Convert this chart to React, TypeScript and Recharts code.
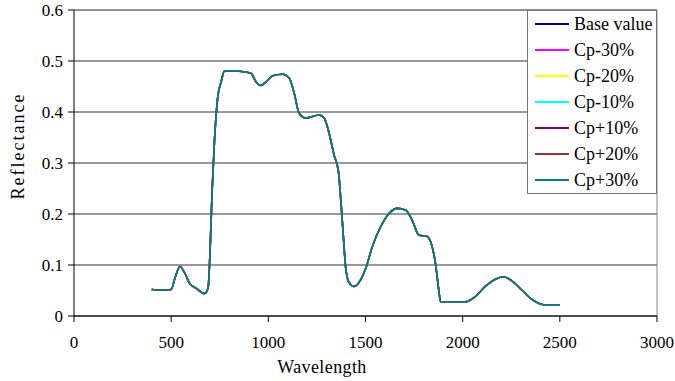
import React from 'react';
import { LineChart, Line, XAxis, YAxis, CartesianGrid, Legend, ReferenceLine } from 'recharts';

// wavelength samples (nm)
const wavelengths = [
  400, 450, 500, 520, 545, 570, 595, 630, 672, 690, 701, 711, 723, 740, 757, 775,
  850, 910, 937, 962, 988, 1022, 1074, 1108, 1133, 1159, 1193, 1262, 1287, 1313,
  1338, 1361, 1373, 1385, 1398, 1415, 1441, 1475, 1501, 1535, 1578, 1621, 1663,
  1706, 1740, 1774, 1817, 1843, 1860, 1877, 1886, 2014, 2065, 2116, 2168, 2210,
  2253, 2304, 2355, 2390, 2440, 2500,
];

// reflectance at those wavelengths (all seven curves sit on top of each other)
const reflectance = [
  0.052, 0.051, 0.052, 0.075, 0.097, 0.084, 0.064, 0.054, 0.044, 0.055, 0.136, 0.247,
  0.345, 0.43, 0.459, 0.481, 0.48, 0.476, 0.459, 0.452, 0.459, 0.471, 0.474, 0.466,
  0.437, 0.397, 0.388, 0.394, 0.388, 0.358, 0.316, 0.283, 0.227, 0.162, 0.095, 0.066,
  0.058, 0.071, 0.093, 0.136, 0.175, 0.201, 0.211, 0.208, 0.188, 0.159, 0.156, 0.136,
  0.103, 0.051, 0.028, 0.028, 0.038, 0.058, 0.072, 0.077, 0.069, 0.051, 0.033, 0.025,
  0.021, 0.021,
];

const seriesNames = ['Base value', 'Cp-30%', 'Cp-20%', 'Cp-10%', 'Cp+10%', 'Cp+20%', 'Cp+30%'];
const seriesColors = ['#000080', '#FF00FF', '#FFFF00', '#00FFFF', '#800080', '#A03030', '#008080'];

const xTicks = [0, 500, 1000, 1500, 2000, 2500, 3000];
const yTicks = [0, 0.1, 0.2, 0.3, 0.4, 0.5, 0.6];

const data = wavelengths.map((w, i) => {
  const row: any = { w };
  seriesNames.forEach((name) => {
    row[name] = reflectance[i];
  });
  return row;
});

const font = 'Liberation Serif';

const LegendBox = () => (
  <div style={{ paddingLeft: 7, fontFamily: font, fontSize: 18, color: '#000' }}>
    {seriesNames.map((name, i) => (
      <div key={name} style={{ display: 'flex', alignItems: 'center', height: 26 }}>
        <svg width={34} height={4}>
          <line x1={0} y1={2} x2={34} y2={2} stroke={seriesColors[i]} strokeWidth={2} />
        </svg>
        <span style={{ marginLeft: 5, whiteSpace: 'nowrap' }}>{name}</span>
      </div>
    ))}
  </div>
);

const App: React.FC = () => {
  return (
    <div style={{ position: 'absolute', left: 0, top: 0, width: 675, height: 381, background: '#fff', fontFamily: font }}>
      <LineChart width={675} height={381} data={data} style={{ fontFamily: font }}
        margin={{ top: 10, right: 18, left: 24, bottom: 0 }}>
        <CartesianGrid vertical={false} stroke="#333" />
        <XAxis dataKey="w" type="number" domain={[0, 3000]} ticks={xTicks}
          stroke="#000" tickSize={6} tickMargin={14} height={65}
          tick={{ fill: '#000', fontSize: 17, fontFamily: font }}
          label={{
            content: () => (
              <text x={322} y={373} textAnchor="middle" fontSize={18} fontFamily={font}
                letterSpacing={0.4} fill="#000">Wavelength</text>
            ),
          }} />
        <YAxis type="number" domain={[0, 0.6]} ticks={yTicks} width={50}
          stroke="#000" tickSize={6} tickMargin={5}
          tick={{ fill: '#000', fontSize: 17, fontFamily: font }}
          label={{
            content: () => (
              <text x={24} y={146} transform="rotate(-90 24 146)" textAnchor="middle"
                fontSize={18} fontFamily={font} letterSpacing={2} fill="#000">Reflectance</text>
            ),
          }} />
        <ReferenceLine y={0.6} stroke="#888" />
        <ReferenceLine x={3000} stroke="#888" />
        <Legend layout="vertical" align="center" verticalAlign="middle" content={LegendBox}
          wrapperStyle={{
            left: 527, top: 10, width: 130, height: 184, right: 'auto', bottom: 'auto',
            border: '1px solid #777', background: '#fff', boxSizing: 'border-box',
          }} />
        {seriesNames.map((name, i) => (
          <Line key={name} type="monotone" dataKey={name} name={name} stroke={seriesColors[i]}
            strokeWidth={1.6} dot={false} isAnimationActive={false} />
        ))}
      </LineChart>
    </div>
  );
};

export default App;
